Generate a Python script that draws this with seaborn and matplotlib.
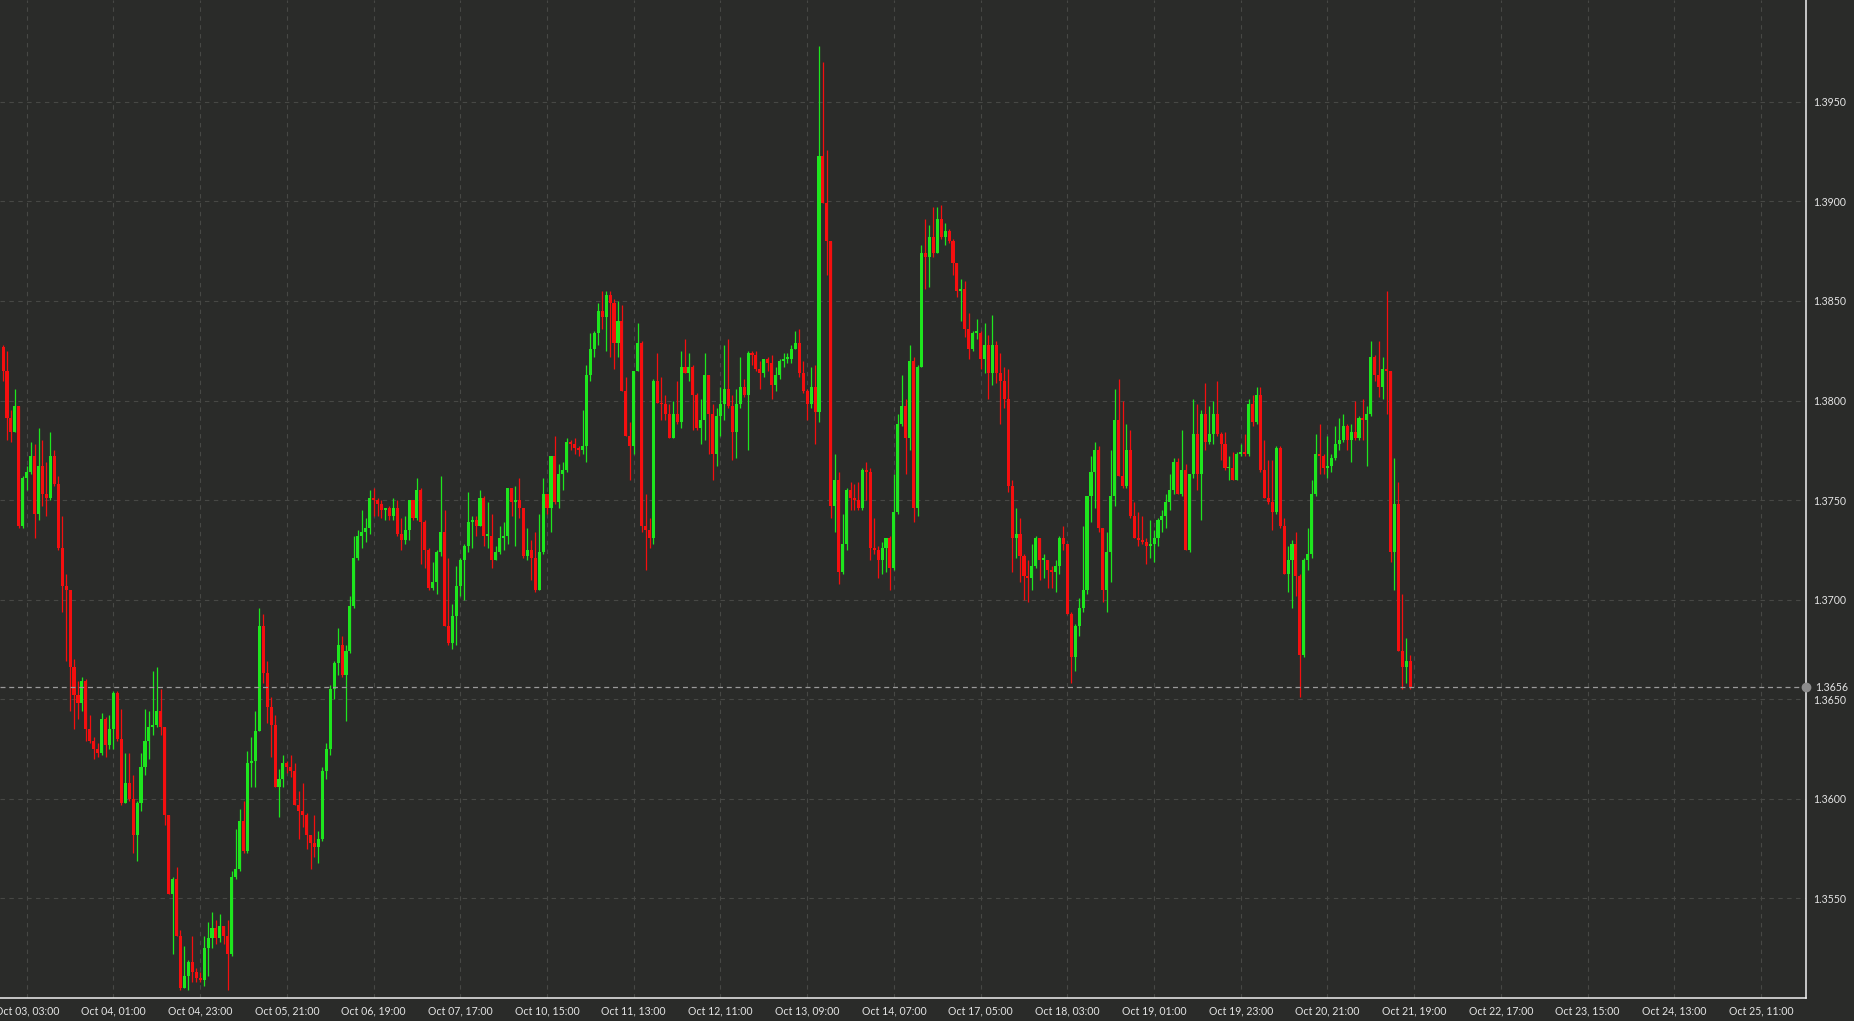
import numpy as np
import pandas as pd
import matplotlib
matplotlib.use("Agg")
import matplotlib.pyplot as plt
import matplotlib.transforms as mtransforms
import seaborn as sns

# hourly candles, first one is bar -6 (Oct 02 21:00), open of bar n = close of bar n-1
first_bar = -6
first_open = 1.3827

closes = [
    1.3815, 1.3791, 1.3784, 1.3797, 1.3737, 1.3761, 1.3764, 1.3772, 1.3743, 1.3767,
    1.3753, 1.3751, 1.3772, 1.3758, 1.3726, 1.3707, 1.3705, 1.3666, 1.3652, 1.3648,
    1.3659, 1.3635, 1.3629, 1.3625, 1.3623, 1.3640, 1.3627, 1.3635, 1.3653, 1.3630,
    1.3598, 1.3608, 1.3600, 1.3582, 1.3598, 1.3616, 1.3629, 1.3636, 1.3637, 1.3644,
    1.3636, 1.3592, 1.3552, 1.3560, 1.3531, 1.3505, 1.3511, 1.3518, 1.3513, 1.3510,
    1.3509, 1.3525, 1.3530, 1.3535, 1.3530, 1.3536, 1.3531, 1.3522, 1.3561, 1.3565,
    1.3589, 1.3574, 1.3618, 1.3619, 1.3634, 1.3687, 1.3663, 1.3646, 1.3637, 1.3606,
    1.3610, 1.3618, 1.3616, 1.3614, 1.3597, 1.3594, 1.3592, 1.3582, 1.3578, 1.3576,
    1.3580, 1.3614, 1.3625, 1.3655, 1.3668, 1.3677, 1.3662, 1.3674, 1.3697, 1.3721,
    1.3732, 1.3734, 1.3736, 1.3751, 1.3750, 1.3748, 1.3745, 1.3746, 1.3742, 1.3746,
    1.3733, 1.3730, 1.3735, 1.3750, 1.3741, 1.3755, 1.3739, 1.3725, 1.3706, 1.3709,
    1.3724, 1.3734, 1.3687, 1.3678, 1.3692, 1.3707, 1.3720, 1.3727, 1.3739, 1.3740,
    1.3737, 1.3751, 1.3732, 1.3732, 1.3720, 1.3724, 1.3731, 1.3732, 1.3756, 1.3749,
    1.3750, 1.3746, 1.3722, 1.3725, 1.3721, 1.3705, 1.3724, 1.3753, 1.3746, 1.3772,
    1.3749, 1.3763, 1.3765, 1.3779, 1.3778, 1.3776, 1.3775, 1.3777, 1.3813, 1.3826,
    1.3834, 1.3845, 1.3842, 1.3853, 1.3849, 1.3829, 1.3840, 1.3805, 1.3782, 1.3777,
    1.3815, 1.3829, 1.3737, 1.3735, 1.3731, 1.3810, 1.3799, 1.3798, 1.3793, 1.3781,
    1.3793, 1.3789, 1.3817, 1.3814, 1.3817, 1.3803, 1.3786, 1.3790, 1.3813, 1.3793,
    1.3773, 1.3792, 1.3798, 1.3806, 1.3797, 1.3784, 1.3798, 1.3807, 1.3803, 1.3824,
    1.3823, 1.3816, 1.3814, 1.3821, 1.3819, 1.3808, 1.3813, 1.3820, 1.3821, 1.3821,
    1.3826, 1.3829, 1.3814, 1.3805, 1.3798, 1.3807, 1.3794, 1.3923, 1.3899, 1.3880,
    1.3747, 1.3760, 1.3714, 1.3728, 1.3755, 1.3751, 1.3750, 1.3746, 1.3765, 1.3764,
    1.3726, 1.3725, 1.3720, 1.3726, 1.3731, 1.3716, 1.3744, 1.3788, 1.3797, 1.3781,
    1.3820, 1.3746, 1.3817, 1.3874, 1.3872, 1.3882, 1.3874, 1.3891, 1.3882, 1.3885,
    1.3880, 1.3869, 1.3855, 1.3856, 1.3836, 1.3826, 1.3834, 1.3834, 1.3821, 1.3828,
    1.3814, 1.3828, 1.3814, 1.3810, 1.3801, 1.3757, 1.3731, 1.3733, 1.3722, 1.3712,
    1.3711, 1.3717, 1.3731, 1.3720, 1.3720, 1.3715, 1.3714, 1.3717, 1.3731, 1.3728,
    1.3693, 1.3671, 1.3687, 1.3696, 1.3705, 1.3752, 1.3764, 1.3775, 1.3736, 1.3705,
    1.3724, 1.3752, 1.3790, 1.3762, 1.3757, 1.3775, 1.3742, 1.3731, 1.3730, 1.3729,
    1.3727, 1.3728, 1.3731, 1.3740, 1.3742, 1.3749, 1.3755, 1.3769, 1.3753, 1.3765,
    1.3725, 1.3763, 1.3783, 1.3763, 1.3793, 1.3779, 1.3783, 1.3793, 1.3783, 1.3778,
    1.3766, 1.3766, 1.3760, 1.3773, 1.3774, 1.3773, 1.3798, 1.3789, 1.3803, 1.3765,
    1.3751, 1.3749, 1.3744, 1.3776, 1.3737, 1.3713, 1.3720, 1.3728, 1.3712, 1.3672,
    1.3720, 1.3723, 1.3753, 1.3773, 1.3772, 1.3766, 1.3767, 1.3771, 1.3778, 1.3780,
    1.3787, 1.3780, 1.3784, 1.3781, 1.3791, 1.3790, 1.3793, 1.3822, 1.3813, 1.3807,
    1.3816, 1.3815, 1.3724, 1.3748, 1.3674, 1.3666, 1.3669, 1.3656,
]

highs = [
    1.3828, 1.3825, 1.3795, 1.3806, 1.3797, 1.3762, 1.3767, 1.3779, 1.3778, 1.3786,
    1.3780, 1.3769, 1.3784, 1.3775, 1.3762, 1.3742, 1.3713, 1.3705, 1.3670, 1.3659,
    1.3661, 1.3660, 1.3642, 1.3631, 1.3628, 1.3643, 1.3641, 1.3642, 1.3654, 1.3654,
    1.3645, 1.3623, 1.3623, 1.3612, 1.3599, 1.3623, 1.3645, 1.3644, 1.3664, 1.3666,
    1.3655, 1.3636, 1.3592, 1.3561, 1.3566, 1.3534, 1.3526, 1.3519, 1.3531, 1.3515,
    1.3513, 1.3531, 1.3538, 1.3543, 1.3539, 1.3542, 1.3536, 1.3539, 1.3564, 1.3585,
    1.3595, 1.3599, 1.3624, 1.3631, 1.3644, 1.3696, 1.3693, 1.3669, 1.3651, 1.3642,
    1.3615, 1.3622, 1.3619, 1.3622, 1.3618, 1.3604, 1.3608, 1.3593, 1.3582, 1.3592,
    1.3584, 1.3616, 1.3628, 1.3657, 1.3669, 1.3686, 1.3682, 1.3677, 1.3702, 1.3732,
    1.3735, 1.3745, 1.3741, 1.3755, 1.3756, 1.3751, 1.3750, 1.3746, 1.3747, 1.3751,
    1.3750, 1.3741, 1.3742, 1.3750, 1.3750, 1.3761, 1.3756, 1.3740, 1.3726, 1.3719,
    1.3725, 1.3762, 1.3745, 1.3721, 1.3698, 1.3717, 1.3721, 1.3728, 1.3754, 1.3742,
    1.3742, 1.3755, 1.3752, 1.3749, 1.3743, 1.3727, 1.3737, 1.3739, 1.3756, 1.3756,
    1.3757, 1.3761, 1.3746, 1.3736, 1.3730, 1.3734, 1.3743, 1.3761, 1.3753, 1.3772,
    1.3782, 1.3768, 1.3769, 1.3781, 1.3780, 1.3781, 1.3777, 1.3795, 1.3818, 1.3834,
    1.3835, 1.3849, 1.3855, 1.3855, 1.3855, 1.3851, 1.3850, 1.3848, 1.3812, 1.3789,
    1.3815, 1.3839, 1.3830, 1.3753, 1.3741, 1.3811, 1.3824, 1.3812, 1.3803, 1.3798,
    1.3800, 1.3810, 1.3825, 1.3831, 1.3824, 1.3818, 1.3804, 1.3801, 1.3824, 1.3813,
    1.3798, 1.3796, 1.3807, 1.3828, 1.3831, 1.3803, 1.3806, 1.3822, 1.3811, 1.3825,
    1.3825, 1.3825, 1.3820, 1.3821, 1.3822, 1.3823, 1.3817, 1.3821, 1.3824, 1.3824,
    1.3828, 1.3835, 1.3836, 1.3820, 1.3806, 1.3817, 1.3818, 1.3978, 1.3970, 1.3926,
    1.3880, 1.3773, 1.3764, 1.3743, 1.3756, 1.3759, 1.3758, 1.3759, 1.3766, 1.3769,
    1.3766, 1.3741, 1.3727, 1.3729, 1.3731, 1.3732, 1.3763, 1.3793, 1.3813, 1.3801,
    1.3828, 1.3822, 1.3818, 1.3878, 1.3891, 1.3888, 1.3897, 1.3897, 1.3898, 1.3889,
    1.3886, 1.3881, 1.3869, 1.3861, 1.3860, 1.3844, 1.3835, 1.3841, 1.3835, 1.3839,
    1.3833, 1.3843, 1.3830, 1.3824, 1.3817, 1.3816, 1.3760, 1.3746, 1.3741, 1.3723,
    1.3720, 1.3728, 1.3732, 1.3731, 1.3723, 1.3720, 1.3717, 1.3720, 1.3732, 1.3737,
    1.3728, 1.3694, 1.3688, 1.3701, 1.3737, 1.3752, 1.3772, 1.3779, 1.3777, 1.3736,
    1.3734, 1.3775, 1.3806, 1.3811, 1.3800, 1.3788, 1.3785, 1.3749, 1.3744, 1.3742,
    1.3731, 1.3740, 1.3735, 1.3741, 1.3745, 1.3753, 1.3763, 1.3771, 1.3771, 1.3785,
    1.3768, 1.3763, 1.3801, 1.3798, 1.3795, 1.3809, 1.3797, 1.3800, 1.3810, 1.3784,
    1.3784, 1.3772, 1.3774, 1.3774, 1.3778, 1.3783, 1.3801, 1.3803, 1.3807, 1.3807,
    1.3780, 1.3770, 1.3770, 1.3777, 1.3777, 1.3741, 1.3727, 1.3730, 1.3734, 1.3713,
    1.3721, 1.3736, 1.3760, 1.3783, 1.3788, 1.3773, 1.3782, 1.3773, 1.3787, 1.3791,
    1.3793, 1.3788, 1.3788, 1.3800, 1.3792, 1.3801, 1.3797, 1.3830, 1.3823, 1.3830,
    1.3822, 1.3855, 1.3815, 1.3771, 1.3759, 1.3703, 1.3681, 1.3672,
]

lows = [
    1.3810, 1.3780, 1.3779, 1.3784, 1.3736, 1.3736, 1.3755, 1.3763, 1.3731, 1.3740,
    1.3747, 1.3742, 1.3750, 1.3757, 1.3725, 1.3694, 1.3669, 1.3644, 1.3635, 1.3640,
    1.3644, 1.3629, 1.3628, 1.3620, 1.3621, 1.3622, 1.3621, 1.3625, 1.3625, 1.3629,
    1.3597, 1.3598, 1.3599, 1.3573, 1.3569, 1.3594, 1.3612, 1.3620, 1.3632, 1.3636,
    1.3632, 1.3587, 1.3552, 1.3522, 1.3531, 1.3504, 1.3505, 1.3504, 1.3508, 1.3508,
    1.3508, 1.3506, 1.3511, 1.3525, 1.3527, 1.3528, 1.3527, 1.3504, 1.3521, 1.3560,
    1.3564, 1.3573, 1.3573, 1.3606, 1.3606, 1.3634, 1.3658, 1.3638, 1.3621, 1.3606,
    1.3591, 1.3606, 1.3613, 1.3611, 1.3597, 1.3580, 1.3586, 1.3575, 1.3565, 1.3571,
    1.3568, 1.3579, 1.3610, 1.3622, 1.3650, 1.3662, 1.3661, 1.3639, 1.3673, 1.3696,
    1.3720, 1.3726, 1.3729, 1.3733, 1.3742, 1.3742, 1.3741, 1.3740, 1.3740, 1.3740,
    1.3732, 1.3725, 1.3728, 1.3730, 1.3740, 1.3740, 1.3718, 1.3716, 1.3705, 1.3705,
    1.3703, 1.3722, 1.3687, 1.3677, 1.3675, 1.3677, 1.3702, 1.3700, 1.3724, 1.3726,
    1.3732, 1.3737, 1.3727, 1.3726, 1.3716, 1.3720, 1.3723, 1.3725, 1.3728, 1.3742,
    1.3727, 1.3741, 1.3721, 1.3720, 1.3710, 1.3704, 1.3705, 1.3723, 1.3743, 1.3734,
    1.3748, 1.3746, 1.3755, 1.3764, 1.3775, 1.3773, 1.3772, 1.3773, 1.3769, 1.3810,
    1.3822, 1.3828, 1.3836, 1.3825, 1.3822, 1.3816, 1.3822, 1.3805, 1.3782, 1.3760,
    1.3773, 1.3815, 1.3734, 1.3715, 1.3726, 1.3728, 1.3799, 1.3790, 1.3790, 1.3781,
    1.3781, 1.3788, 1.3786, 1.3814, 1.3810, 1.3785, 1.3785, 1.3778, 1.3780, 1.3773,
    1.3760, 1.3767, 1.3782, 1.3790, 1.3796, 1.3770, 1.3771, 1.3796, 1.3802, 1.3775,
    1.3818, 1.3815, 1.3806, 1.3812, 1.3815, 1.3801, 1.3805, 1.3811, 1.3817, 1.3819,
    1.3819, 1.3826, 1.3812, 1.3804, 1.3790, 1.3796, 1.3778, 1.3789, 1.3899, 1.3863,
    1.3741, 1.3734, 1.3708, 1.3713, 1.3725, 1.3745, 1.3745, 1.3745, 1.3745, 1.3750,
    1.3720, 1.3723, 1.3711, 1.3713, 1.3714, 1.3705, 1.3715, 1.3743, 1.3787, 1.3763,
    1.3775, 1.3739, 1.3742, 1.3817, 1.3856, 1.3857, 1.3872, 1.3874, 1.3881, 1.3878,
    1.3879, 1.3863, 1.3852, 1.3840, 1.3832, 1.3821, 1.3825, 1.3831, 1.3816, 1.3814,
    1.3801, 1.3808, 1.3809, 1.3788, 1.3796, 1.3754, 1.3714, 1.3721, 1.3709, 1.3700,
    1.3699, 1.3705, 1.3716, 1.3710, 1.3711, 1.3706, 1.3706, 1.3704, 1.3713, 1.3725,
    1.3693, 1.3658, 1.3664, 1.3682, 1.3694, 1.3703, 1.3739, 1.3746, 1.3734, 1.3699,
    1.3694, 1.3709, 1.3747, 1.3762, 1.3756, 1.3756, 1.3741, 1.3731, 1.3727, 1.3728,
    1.3718, 1.3721, 1.3719, 1.3727, 1.3734, 1.3736, 1.3745, 1.3753, 1.3753, 1.3752,
    1.3725, 1.3724, 1.3761, 1.3755, 1.3740, 1.3775, 1.3778, 1.3778, 1.3782, 1.3770,
    1.3765, 1.3760, 1.3760, 1.3760, 1.3772, 1.3772, 1.3772, 1.3787, 1.3788, 1.3764,
    1.3751, 1.3748, 1.3735, 1.3743, 1.3736, 1.3713, 1.3704, 1.3696, 1.3702, 1.3651,
    1.3671, 1.3715, 1.3721, 1.3752, 1.3763, 1.3763, 1.3761, 1.3764, 1.3770, 1.3775,
    1.3779, 1.3775, 1.3769, 1.3780, 1.3780, 1.3780, 1.3767, 1.3792, 1.3810, 1.3802,
    1.3801, 1.3793, 1.3719, 1.3705, 1.3674, 1.3655, 1.3658, 1.3655,
]

tick_labels = [
    "Oct 03, 03:00", "Oct 04, 01:00", "Oct 04, 23:00", "Oct 05, 21:00", "Oct 06, 19:00",
    "Oct 07, 17:00", "Oct 10, 15:00", "Oct 11, 13:00", "Oct 12, 11:00", "Oct 13, 09:00",
    "Oct 14, 07:00", "Oct 17, 05:00", "Oct 18, 03:00", "Oct 19, 01:00", "Oct 19, 23:00",
    "Oct 20, 21:00", "Oct 21, 19:00", "Oct 22, 17:00", "Oct 23, 15:00", "Oct 24, 13:00",
    "Oct 25, 11:00",
]
bars_per_tick = 22
y_ticks = [1.3550, 1.3600, 1.3650, 1.3700, 1.3750, 1.3800, 1.3850, 1.3900, 1.3950]
last_price = 1.3656

bg = "#2a2b29"
up_col = "#1ee61e"
down_col = "#f50f0f"
txt_col = "#e4e4e4"

df = pd.DataFrame({"close": closes, "high": highs, "low": lows})
df["bar"] = np.arange(len(df)) + first_bar
df["open"] = [first_open] + closes[:-1]
df["up"] = df["close"] >= df["open"]
df["high"] = df[["high", "open", "close"]].max(axis=1)
df["low"] = df[["low", "open", "close"]].min(axis=1)
df["body_lo"] = df[["open", "close"]].min(axis=1)
df["body_h"] = (df["close"] - df["open"]).abs().clip(lower=0.00008)
cols = np.where(df["up"], up_col, down_col)

sns.set_theme(style="dark", rc={
    "axes.facecolor": bg, "figure.facecolor": bg,
    "axes.edgecolor": "#f0f0f0", "grid.color": "#464744",
})
plt.rcParams["font.family"] = ["Lato", "DejaVu Sans"]

fig = plt.figure(figsize=(18.54, 10.21), dpi=100)
ax = fig.add_axes([0, 1 - 998 / 1021, 1806 / 1854, 998 / 1021])

ax.vlines(df["bar"], df["low"], df["high"], colors=cols, linewidth=0.9, zorder=3)
ax.bar(df["bar"], df["body_h"], bottom=df["body_lo"], width=0.78, color=cols,
       linewidth=0, zorder=4)

# last price line + marker on the axis
ax.axhline(last_price, color="#9a9a9a", linewidth=0.9, linestyle=(0, (4, 3)), zorder=5)
trans = mtransforms.blended_transform_factory(ax.transAxes, ax.transData)
ax.plot([1.0], [last_price], marker="o", markersize=6, color="#8c8c8c",
        transform=trans, clip_on=False, zorder=6)
ax.text(1.0, last_price, "1.3656", transform=trans, color=txt_col, fontsize=7.6,
        va="center", ha="left", clip_on=False,
        bbox=None).set_transform(trans + mtransforms.ScaledTranslation(9 / 100, 0, fig.dpi_scale_trans))

ax.set_xlim(-6.78, 451.4)
ax.set_ylim(1.35, 1.40011)

xt = [k * bars_per_tick for k in range(len(tick_labels))]
ax.set_xticks(xt)
ax.set_xticklabels(tick_labels)
ax.yaxis.tick_right()
ax.set_yticks(y_ticks)
ax.set_yticklabels([f"{v:.4f}" for v in y_ticks])

ax.grid(True, which="major", axis="both", color="#474845", linewidth=0.8,
        linestyle=(0, (4, 4)), zorder=0)
ax.tick_params(axis="both", colors="#f0f0f0", labelcolor=txt_col, labelsize=7.6,
               length=3, width=1, direction="out")
ax.tick_params(axis="y", pad=2.5)
ax.tick_params(axis="x", pad=2.5)

sns.despine(ax=ax, left=True, top=True, right=False, bottom=False)
ax.spines["right"].set_color("#f0f0f0")
ax.spines["bottom"].set_color("#f0f0f0")
ax.spines["right"].set_linewidth(1.1)
ax.spines["bottom"].set_linewidth(1.1)

fig.savefig("out.png", dpi=100, facecolor=bg)
